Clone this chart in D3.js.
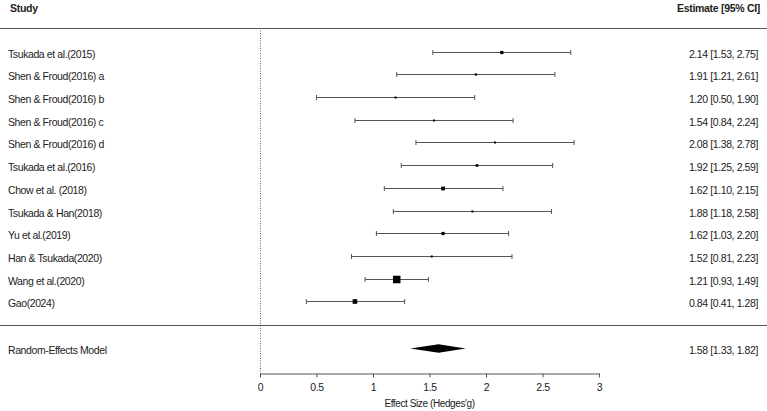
<!DOCTYPE html>
<html><head><meta charset="utf-8">
<script src="https://cdn.jsdelivr.net/npm/d3@7"></script>
<style>body{margin:0;background:#fff}svg{display:block}text{font-family:"Liberation Sans",Arial,sans-serif;fill:#222}</style>
</head><body><svg id="c" width="767" height="411"></svg>
<script>
const studies = ["Tsukada et al.(2015)","Shen & Froud(2016) a","Shen & Froud(2016) b","Shen & Froud(2016) c","Shen & Froud(2016) d","Tsukada et al.(2016)","Chow et al. (2018)","Tsukada & Han(2018)","Yu et al.(2019)","Han & Tsukada(2020)","Wang et al.(2020)","Gao(2024)"];
const estimates = [2.14,1.91,1.20,1.54,2.08,1.92,1.62,1.88,1.62,1.52,1.21,0.84];
const lower = [1.53,1.21,0.50,0.84,1.38,1.25,1.10,1.18,1.03,0.81,0.93,0.41];
const upper = [2.75,2.61,1.90,2.24,2.78,2.59,2.15,2.58,2.20,2.23,1.49,1.28];
const weights = [3.2,2.2,2.0,2.0,2.0,2.6,3.8,2.0,3.2,2.0,7.5,4.6];
const pooled = {label:"Random-Effects Model", est:1.58, lo:1.33, hi:1.82};
const xTicks = [0,0.5,1,1.5,2,2.5,3];

const svg = d3.select("#c");
const x = d3.scaleLinear().domain([0,3]).range([260,599]);
const y = d3.scaleBand().domain(studies).range([40.14,312.86]);
const rowY = s => y(s) + y.bandwidth()/2;
const fmt = d3.format(".2f");
const lineCol = "#555";
const FS = 10.5, LS = "-0.4px";

svg.append("text").attr("x",10).attr("y",12).attr("font-size",10.5).attr("letter-spacing","-0.3px").attr("font-weight","bold").text("Study");
svg.append("text").attr("x",760).attr("y",12).attr("font-size",10.5).attr("letter-spacing","-0.3px").attr("font-weight","bold").attr("text-anchor","end").text("Estimate [95% CI]");
svg.append("line").attr("x1",0).attr("x2",767).attr("y1",28.5).attr("y2",28.5).attr("stroke",lineCol).attr("stroke-width",1);
svg.append("line").attr("x1",0).attr("x2",767).attr("y1",325.5).attr("y2",325.5).attr("stroke",lineCol).attr("stroke-width",1);

svg.append("line").attr("x1",x(0)+0.5).attr("x2",x(0)+0.5).attr("y1",28).attr("y2",377)
  .attr("stroke","#666").attr("stroke-dasharray","1,1.5");

const g = svg.append("g");
studies.forEach((s,i)=>{
  const yy = Math.round(rowY(s))+0.5;
  g.append("line").attr("x1",x(lower[i])).attr("x2",x(upper[i])).attr("y1",yy).attr("y2",yy).attr("stroke",lineCol);
  [lower[i],upper[i]].forEach(v=>g.append("line").attr("x1",x(v)).attr("x2",x(v)).attr("y1",yy-2.5).attr("y2",yy+2.5).attr("stroke",lineCol));
  const w = weights[i];
  g.append("rect").attr("x",x(estimates[i])-w/2).attr("y",yy-w/2).attr("width",w).attr("height",w).attr("fill","#000");
  g.append("text").attr("x",8).attr("y",yy+5).attr("font-size",FS).attr("letter-spacing",LS).text(s);
  g.append("text").attr("x",758).attr("y",yy+5).attr("font-size",FS).attr("letter-spacing",LS).attr("text-anchor","end")
    .text(`${fmt(estimates[i])} [${fmt(lower[i])}, ${fmt(upper[i])}]`);
});

const py = 348.5;
svg.append("path").attr("d",`M${x(pooled.lo)},${py}L${x(pooled.est)},${py-4.3}L${x(pooled.hi)},${py}L${x(pooled.est)},${py+4.3}Z`).attr("fill","#000");
svg.append("text").attr("x",8).attr("y",py+5).attr("font-size",FS).attr("letter-spacing",LS).text(pooled.label);
svg.append("text").attr("x",758).attr("y",py+5).attr("font-size",FS).attr("letter-spacing",LS).attr("text-anchor","end")
  .text(`${fmt(pooled.est)} [${fmt(pooled.lo)}, ${fmt(pooled.hi)}]`);

const ax = svg.append("g").attr("transform","translate(0,373.5)")
  .call(d3.axisBottom(x).tickValues(xTicks).tickFormat(d3.format("")).tickSize(4).tickPadding(6).tickSizeOuter(0));
ax.select(".domain").attr("stroke",lineCol);
ax.selectAll(".tick line").attr("stroke",lineCol);
ax.selectAll(".tick text").attr("font-size",10.5).attr("letter-spacing","-0.4px").attr("fill","#222").attr("font-family","Liberation Sans, Arial, sans-serif");
svg.append("text").attr("x",x(1.5)).attr("y",406.5).attr("font-size",10).attr("letter-spacing","-0.4px").attr("text-anchor","middle").text("Effect Size (Hedges'g)");
</script></body></html>
